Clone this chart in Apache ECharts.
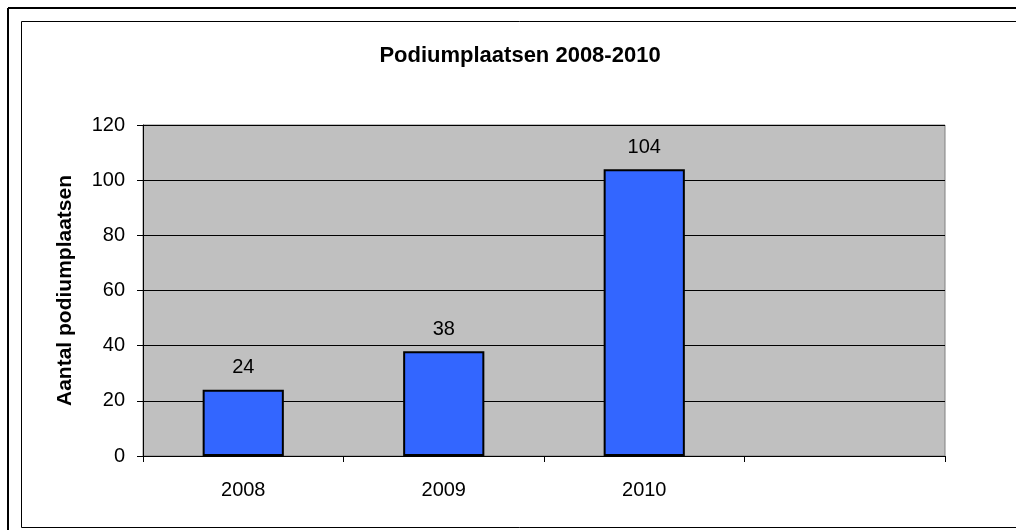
<!DOCTYPE html>
<html><head><meta charset="utf-8">
<style>html,body{margin:0;padding:0;background:#fff}#c{width:1016px;height:530px}</style>
<script src="https://cdn.jsdelivr.net/npm/echarts@6/dist/echarts.min.js"></script>
</head><body><div id="c"></div>
<script>
const categories = ['2008', '2009', '2010', ''];
const values = [24, 38, 104, null];
const yTicks = { min: 0, max: 120, interval: 20 };
const titleText = 'Podiumplaatsen 2008-2010';
const yAxisName = 'Aantal podiumplaatsen';

const chart = echarts.init(document.getElementById('c'), null, { renderer: 'canvas' });
const font = 'Liberation Sans, Arial, sans-serif';
chart.setOption({
  animation: false,
  backgroundColor: '#fff',
  title: {
    text: titleText, left: 515, top: 40, textAlign: 'center',
    textStyle: { fontFamily: font, fontSize: 22, fontWeight: 'bold', color: '#000' }
  },
  grid: { left: 143, top: 125, width: 802, height: 331, show: true, backgroundColor: '#c0c0c0', borderColor: '#808080', borderWidth: 1 },
  xAxis: {
    type: 'category', data: categories,
    axisLine: { lineStyle: { color: '#000', width: 1 } },
    axisTick: { show: true, alignWithLabel: false, length: 6, lineStyle: { color: '#000' } },
    axisLabel: { fontFamily: font, fontSize: 20, color: '#000', margin: 24 }
  },
  yAxis: {
    type: 'value', min: yTicks.min, max: yTicks.max, interval: yTicks.interval,
    name: yAxisName, nameLocation: 'middle', nameGap: 67,
    nameTextStyle: { fontFamily: font, fontSize: 21, fontWeight: 'bold', color: '#000' },
    axisLine: { show: true, lineStyle: { color: '#000', width: 1 } },
    axisTick: { show: true, length: 6, lineStyle: { color: '#000' } },
    axisLabel: { fontFamily: font, fontSize: 20, color: '#000', margin: 18 },
    splitLine: { show: true, lineStyle: { color: '#000', width: 1 } }
  },
  series: [{
    type: 'bar', data: values, barWidth: '40.5%',
    itemStyle: { color: '#3366ff', borderColor: '#000', borderWidth: 2 },
    label: { show: true, position: 'top', distance: 12, fontFamily: font, fontSize: 20, color: '#000' }
  }],
  graphic: [
    { type: 'line', shape: { x1: 8, y1: 8, x2: 1016, y2: 8 }, style: { stroke: '#000', lineWidth: 2 } },
    { type: 'line', shape: { x1: 8, y1: 8, x2: 8, y2: 530 }, style: { stroke: '#000', lineWidth: 2 } },
    { type: 'rect', shape: { x: 21.5, y: 21.5, width: 1100, height: 506 }, style: { fill: 'none', stroke: '#000', lineWidth: 1 } }
  ]
});
</script></body></html>
